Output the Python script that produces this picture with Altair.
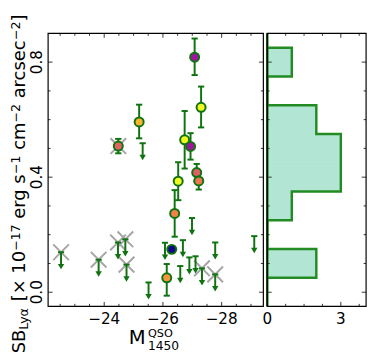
import altair as alt
import pandas as pd

FONT = "DejaVu Sans"
G = "#0f730f"          # error bars / arrows / marker edges
GREY = "#a5a5a5"
HIST_FILL = "#b2e5d3"
HIST_EDGE = "#238b23"
TICK = "#333333"

# ---------------- data ----------------
det_x = [-27.08, -27.30, -25.19, -24.48, -26.74, -26.94, -27.15, -27.22, -26.52, -26.40, -26.30, -26.13]
det_y = [0.817, 0.643, 0.592, 0.508, 0.530, 0.507, 0.416, 0.387, 0.386, 0.274, 0.149, 0.050]
det_err_lo = [0.062, 0.070, 0.057, 0.025, 0.100, 0.046, 0.030, 0.030, 0.066, 0.081, 0.010, 0.062]
det_err_hi = [0.065, 0.072, 0.060, 0.025, 0.100, 0.046, 0.030, 0.030, 0.066, 0.081, 0.010, 0.048]
det_color = ["#9c179e", "#eff821", "#fdb42f", "#e16462", "#eff821", "#9c179e",
             "#de5f65", "#ed7953", "#eff821", "#f2844b", "#0d0887", "#f89540"]
det_cross = [False, False, False, True, False, False, False, False, False, False, False, False]

ul_x = [-22.53, -23.81, -24.47, -24.72, -24.76, -25.31, -25.51, -26.07, -26.68, -26.59,
        -26.90, -26.99, -27.11, -27.33, -27.78, -27.78, -29.11]
ul_y = [0.139, 0.113, 0.173, 0.184, 0.096, 0.518, 0.034, 0.172, 0.181, 0.091,
        0.121, 0.258, 0.125, 0.083, 0.173, 0.062, 0.195]
ul_cross = [True, True, True, True, True, False, False, False, False, False,
            False, False, False, True, False, True, False]

hist_edges = [0.05, 0.15, 0.25, 0.35, 0.45, 0.55, 0.65, 0.75, 0.85]
hist_counts = [2, 0, 1, 3, 3, 2, 0, 1]

x_major = [-24, -26, -28]
x_minor = [-22.5, -23, -23.5, -24.5, -25, -25.5, -26.5, -27, -27.5, -28.5, -29]
y_major = [0.0, 0.4, 0.8]
y_minor = [0.1, 0.2, 0.3, 0.5, 0.6, 0.7]
h_major = [0, 3]
h_minor = [0.75, 1.5, 2.25, 3.75]

ARROW = 0.05   # arrow shaft length in data units

# ---------------- tables ----------------
det = pd.DataFrame({"x": det_x, "y": det_y, "color": det_color, "cross": det_cross})
det["lo"] = [y - e for y, e in zip(det_y, det_err_lo)]
det["hi"] = [y + e for y, e in zip(det_y, det_err_hi)]
ul = pd.DataFrame({"x": ul_x, "y": ul_y, "cross": ul_cross})
ul["tail"] = ul["y"] - ARROW

caps = pd.concat([
    pd.DataFrame({"x": det["x"], "y": det["lo"]}),
    pd.DataFrame({"x": det["x"], "y": det["hi"]}),
    pd.DataFrame({"x": ul["x"], "y": ul["y"]}),
], ignore_index=True)
crosses = pd.concat([det.loc[det["cross"], ["x", "y"]], ul.loc[ul["cross"], ["x", "y"]]],
                    ignore_index=True)

hist = pd.DataFrame({"lo": hist_edges[:-1], "hi": hist_edges[1:], "count": hist_counts})
hist["zero"] = 0
outline_x = [0]
outline_y = [hist_edges[0]]
for i, c in enumerate(hist_counts):
    outline_x += [c, c]
    outline_y += [hist_edges[i], hist_edges[i + 1]]
outline_x.append(0)
outline_y.append(hist_edges[-1])
outline = pd.DataFrame({"cx": outline_x, "cy": outline_y, "i": list(range(len(outline_x)))})

xlab = pd.DataFrame({"v": x_major, "lab": ["\u2212" + str(abs(v)) for v in x_major]})
ylab = pd.DataFrame({"v": y_major, "lab": [f"{v:.1f}" for v in y_major]})
hlab = pd.DataFrame({"v": h_major, "lab": [str(v) for v in h_major]})

# ---------------- layout (pixels inside the plotting frame) ----------------
W, H = 220, 279          # main panel
GAP, HW = 4, 101         # histogram panel
HX0 = W + GAP
TOTAL_W = HX0 + HW

xs = alt.Scale(domain=[-29.42, -22.09], range=[W, 0], nice=False, zero=False)
ys = alt.Scale(domain=[-0.049, 0.9], range=[H, 0], nice=False, zero=False)
hs = alt.Scale(domain=[0, 4.03], range=[HX0, TOTAL_W], nice=False, zero=False)


def X(f):
    return alt.X(f, type="quantitative", scale=xs, axis=None)


def Y(f):
    return alt.Y(f, type="quantitative", scale=ys, axis=None)


def HXe(f):
    return alt.X(f, type="quantitative", scale=hs, axis=None)


one = pd.DataFrame({"a": [0]})


def rule(d, **enc):
    return alt.Chart(d).mark_rule(color=TICK, strokeWidth=1).encode(**enc)


def tick_layers(xmaj, xmin, xenc, x0, x1):
    out = []
    for vals, ln in ((xmaj, 4.5), (xmin, 2.5)):
        d = pd.DataFrame({"v": vals})
        out.append(rule(d, x=xenc("v"), y=alt.value(H), y2=alt.value(H - ln)))
        out.append(rule(d, x=xenc("v"), y=alt.value(0), y2=alt.value(ln)))
    for vals, ln in ((y_major, 4.5), (y_minor, 2.5)):
        d = pd.DataFrame({"v": vals})
        out.append(rule(d, y=Y("v"), x=alt.value(x0), x2=alt.value(x0 + ln)))
        out.append(rule(d, y=Y("v"), x=alt.value(x1), x2=alt.value(x1 - ln)))
    return out


def txt(s, x, y, size, angle=0):
    kw = dict(text=s, font=FONT, fontSize=size, align="left", baseline="alphabetic", color="black")
    if angle:
        kw["angle"] = angle
    return alt.Chart(one).mark_text(**kw).encode(x=alt.value(x), y=alt.value(y))


LAB_FS = 15.5
label_layers = [
    alt.Chart(xlab).mark_text(font=FONT, fontSize=LAB_FS, align="center", baseline="alphabetic",
                              color="black").encode(x=X("v"), y=alt.value(296.7), text="lab:N"),
    alt.Chart(hlab).mark_text(font=FONT, fontSize=LAB_FS, align="center", baseline="alphabetic",
                              color="black").encode(x=HXe("v"), y=alt.value(296.7), text="lab:N"),
    alt.Chart(ylab).mark_text(font=FONT, fontSize=LAB_FS, align="center", baseline="alphabetic",
                              angle=270, color="black").encode(y=Y("v"), x=alt.value(-6), text="lab:N"),
]

# y-axis title pieces (rotated), laid out bottom to top
EM = {'S': .635, 'B': .686, 'L': .557, 'y': .592, 'α': .659, ' ': .318, '[': .390, '×': .838,
      '0': .636, '1': .636, '2': .636, '7': .636, '−': .838, 'e': .615, 'r': .411, 'g': .635,
      's': .521, 'c': .550, 'm': .974, 'a': .613, ']': .390}
ytitle = [("SB", "main"), ("Lyα", "sub"), (" [× 10", "main"), ("−17", "sup"), (" erg s", "main"),
          ("−1", "sup"), (" cm", "main"), ("−2", "sup"), (" arcsec", "main"), ("−2", "sup"),
          ("]", "main")]
MAIN_FS, SCR_FS = 18.3, 12.8
base_x = {"main": -23.5, "sup": -28.5, "sub": -20.3}
title_layers = []
pos = 327.0
for s, kind in ytitle:
    fs = MAIN_FS if kind == "main" else SCR_FS
    lead = len(s) - len(s.lstrip(" "))
    pos -= lead * EM[' '] * fs
    body = s.strip(" ")
    title_layers.append(txt(body, base_x[kind], pos, fs, angle=270))
    pos -= sum(EM[c] for c in body) * fs

# x-axis title
title_layers += [
    txt("M", 82.5, 317.7, 20),
    txt("QSO", 102, 310, 11.5),
    txt("1450", 102, 323.5, 12.5),
]

main_layers = [
    alt.Chart(crosses).mark_point(shape="M-1,-1L1,1M-1,1L1,-1", size=256, filled=False,
                                  stroke=GREY, strokeWidth=2, opacity=1).encode(x=X("x"), y=Y("y")),
    alt.Chart(det).mark_rule(color=G, strokeWidth=2).encode(x=X("x"), y=Y("lo"), y2="hi"),
    alt.Chart(ul).mark_rule(color=G, strokeWidth=2).encode(x=X("x"), y=Y("y"), y2="tail"),
    alt.Chart(caps).mark_point(shape="M-1,0L1,0", size=40, filled=False, stroke=G,
                               strokeWidth=2, opacity=1).encode(x=X("x"), y=Y("y")),
    alt.Chart(ul).mark_point(shape="triangle-down", size=42, filled=True, color=G,
                             opacity=1).encode(x=X("x"), y=Y("tail")),
    alt.Chart(det).mark_circle(size=85, stroke=G, strokeWidth=2, opacity=1).encode(
        x=X("x"), y=Y("y"), fill=alt.Fill("color:N", scale=None)),
]

hist_layers = [
    alt.Chart(hist).mark_rect(color=HIST_FILL, stroke=HIST_FILL, strokeWidth=1).encode(
        x=HXe("zero"), x2="count", y=Y("lo"), y2="hi"),
    alt.Chart(outline).mark_line(color=HIST_EDGE, strokeWidth=2.5, strokeJoin="miter").encode(
        x=HXe("cx"), y=Y("cy"), order="i:Q"),
    alt.Chart(one).mark_rule(color="#0b6a0b", strokeWidth=2.5).encode(
        x=alt.X(datum=0, type="quantitative", scale=hs, axis=None), y=alt.value(0), y2=alt.value(H)),
]

frames = [
    alt.Chart(one).mark_rect(fillOpacity=0, stroke="black", strokeWidth=1.2).encode(
        x=alt.value(0), x2=alt.value(W), y=alt.value(0), y2=alt.value(H)),
    alt.Chart(one).mark_rect(fillOpacity=0, stroke="black", strokeWidth=1.2).encode(
        x=alt.value(HX0), x2=alt.value(TOTAL_W), y=alt.value(0), y2=alt.value(H)),
]

layers = (tick_layers(x_major, x_minor, X, 0, W) + main_layers + hist_layers
          + tick_layers(h_major, h_minor, HXe, HX0, TOTAL_W) + frames + label_layers + title_layers)

chart = alt.layer(*layers).resolve_scale(x="independent").properties(
    width=TOTAL_W, height=H,
    autosize=alt.AutoSizeParams(type="none"),
    padding={"left": 41, "top": 22, "right": 4, "bottom": 53},
).configure_view(stroke=None)

chart.save("out.html", embed_options={"renderer": "svg", "actions": False})
